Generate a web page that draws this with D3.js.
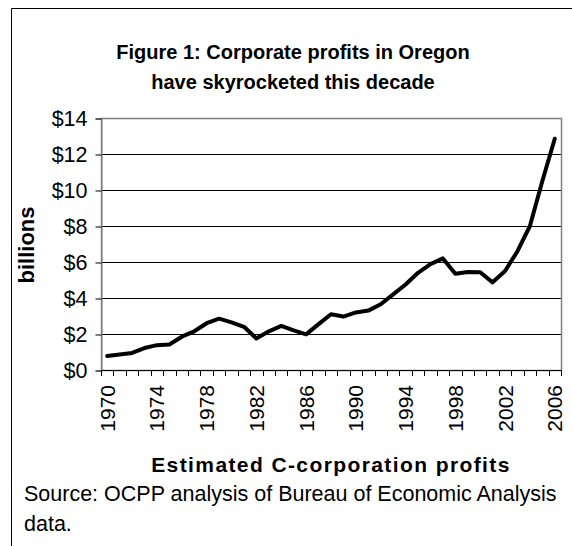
<!DOCTYPE html>
<html>
<head>
<meta charset="utf-8">
<script src="https://cdn.jsdelivr.net/npm/d3@7"></script>
<style>
  body { margin: 0; background: #fff; }
  svg { display: block; font-family: Arial, "Liberation Sans", sans-serif; }
</style>
</head>
<body>
<svg id="chart" width="572" height="546"></svg>
<script>
// years on the category axis
var years = [1970, 1971, 1972, 1973, 1974, 1975, 1976, 1977, 1978, 1979,
             1980, 1981, 1982, 1983, 1984, 1985, 1986, 1987, 1988, 1989,
             1990, 1991, 1992, 1993, 1994, 1995, 1996, 1997, 1998, 1999,
             2000, 2001, 2002, 2003, 2004, 2005, 2006];
// estimated C-corporation profits, billions of dollars
var profits = [0.78, 0.86, 0.95, 1.22, 1.38, 1.42, 1.85, 2.15, 2.6, 2.85,
               2.65, 2.4, 1.75, 2.15, 2.45, 2.2, 1.98, 2.55, 3.1, 2.97,
               3.2, 3.3, 3.65, 4.2, 4.75, 5.4, 5.88, 6.2, 5.35, 5.45,
               5.43, 4.87, 5.5, 6.6, 8.0, 10.5, 12.85];
var yTicks = [0, 2, 4, 6, 8, 10, 12, 14];
var xLabelYears = [1970, 1974, 1978, 1982, 1986, 1990, 1994, 1998, 2002, 2006];
var titleLines = ["Figure 1: Corporate profits in Oregon", "have skyrocketed this decade"];
var sourceLines = ["Source: OCPP analysis of Bureau of Economic Analysis", "data."];

var svg = d3.select("#chart");
var plot = {left: 101, right: 561, top: 118, bottom: 370};

var x = d3.scaleBand().domain(years).range([plot.left, plot.right]).padding(0);
var y = d3.scaleLinear().domain([0, 14]).range([plot.bottom, plot.top]);

// outer frame (top and left only visible)
svg.append("line").attr("x1", 11.5).attr("x2", 572).attr("y1", 8.5).attr("y2", 8.5)
    .attr("stroke", "#000").attr("stroke-width", 1);
svg.append("line").attr("x1", 11.5).attr("x2", 11.5).attr("y1", 8.5).attr("y2", 546)
    .attr("stroke", "#000").attr("stroke-width", 1);

// title
svg.append("g").selectAll("text")
    .data(titleLines)
    .enter().append("text")
    .attr("x", 293)
    .attr("y", function(d, i) { return 59 + i * 30; })
    .attr("text-anchor", "middle")
    .attr("font-size", 20)
    .attr("font-weight", "bold")
    .text(function(d) { return d; });

// gridlines
svg.append("g").selectAll("line")
    .data(yTicks.slice(1, -1))
    .enter().append("line")
    .attr("x1", plot.left).attr("x2", plot.right)
    .attr("y1", function(d) { return Math.round(y(d)) + 0.5; })
    .attr("y2", function(d) { return Math.round(y(d)) + 0.5; })
    .attr("stroke", "#000").attr("stroke-width", 1);

// plot area border
svg.append("rect")
    .attr("x", plot.left + 0.5).attr("y", plot.top + 0.5)
    .attr("width", plot.right - plot.left).attr("height", plot.bottom - plot.top)
    .attr("fill", "none").attr("stroke", "#808080").attr("stroke-width", 1.5);

// y axis
var yAxis = svg.append("g")
    .attr("transform", "translate(" + (plot.left + 0.5) + ",0.5)")
    .call(d3.axisLeft(y).tickValues(yTicks).tickSize(6).tickPadding(8)
        .tickFormat(function(d) { return "$" + d; }));
yAxis.select(".domain").attr("stroke", "#808080");
yAxis.selectAll("text").attr("font-size", 21.5).attr("fill", "#000")
    .attr("font-family", "Arial, 'Liberation Sans', sans-serif");

// x axis line and category boundary ticks
var xg = svg.append("g");
xg.append("line")
    .attr("x1", plot.left).attr("x2", plot.right + 1)
    .attr("y1", plot.bottom + 0.5).attr("y2", plot.bottom + 0.5)
    .attr("stroke", "#000");
var bounds = years.map(function(d) { return x(d); }).concat([x(years[years.length - 1]) + x.bandwidth()]);
xg.selectAll(".tk")
    .data(bounds)
    .enter().append("line")
    .attr("class", "tk")
    .attr("x1", function(d) { return Math.round(d) + 0.5; })
    .attr("x2", function(d) { return Math.round(d) + 0.5; })
    .attr("y1", plot.bottom).attr("y2", plot.bottom + 6)
    .attr("stroke", "#000");
xg.selectAll(".lbl")
    .data(xLabelYears)
    .enter().append("text")
    .attr("class", "lbl")
    .attr("transform", function(d) {
        return "translate(" + (x(d) + x.bandwidth() / 2 + 7.5) + "," + (plot.bottom + 15) + ") rotate(-90)";
    })
    .attr("text-anchor", "end")
    .attr("font-size", 21)
    .text(function(d) { return d; });

// axis titles
svg.append("text")
    .attr("transform", "translate(34,245) rotate(-90)")
    .attr("text-anchor", "middle")
    .attr("font-size", 22)
    .attr("font-weight", "bold")
    .text("billions");

svg.append("text")
    .attr("x", 331).attr("y", 472)
    .attr("text-anchor", "middle")
    .attr("font-size", 21)
    .attr("font-weight", "bold")
    .attr("letter-spacing", 1.4)
    .text("Estimated C-corporation profits");

// source note
svg.append("g").selectAll("text")
    .data(sourceLines)
    .enter().append("text")
    .attr("x", 24)
    .attr("y", function(d, i) { return 501 + i * 30; })
    .attr("font-size", 21.5)
    .text(function(d) { return d; });

// profit line
var line = d3.line()
    .x(function(d, i) { return x(years[i]) + x.bandwidth() / 2; })
    .y(function(d) { return y(d); });

svg.append("path")
    .datum(profits)
    .attr("d", line)
    .attr("fill", "none")
    .attr("stroke", "#000")
    .attr("stroke-width", 4)
    .attr("stroke-linejoin", "round")
    .attr("stroke-linecap", "round");
</script>
</body>
</html>
